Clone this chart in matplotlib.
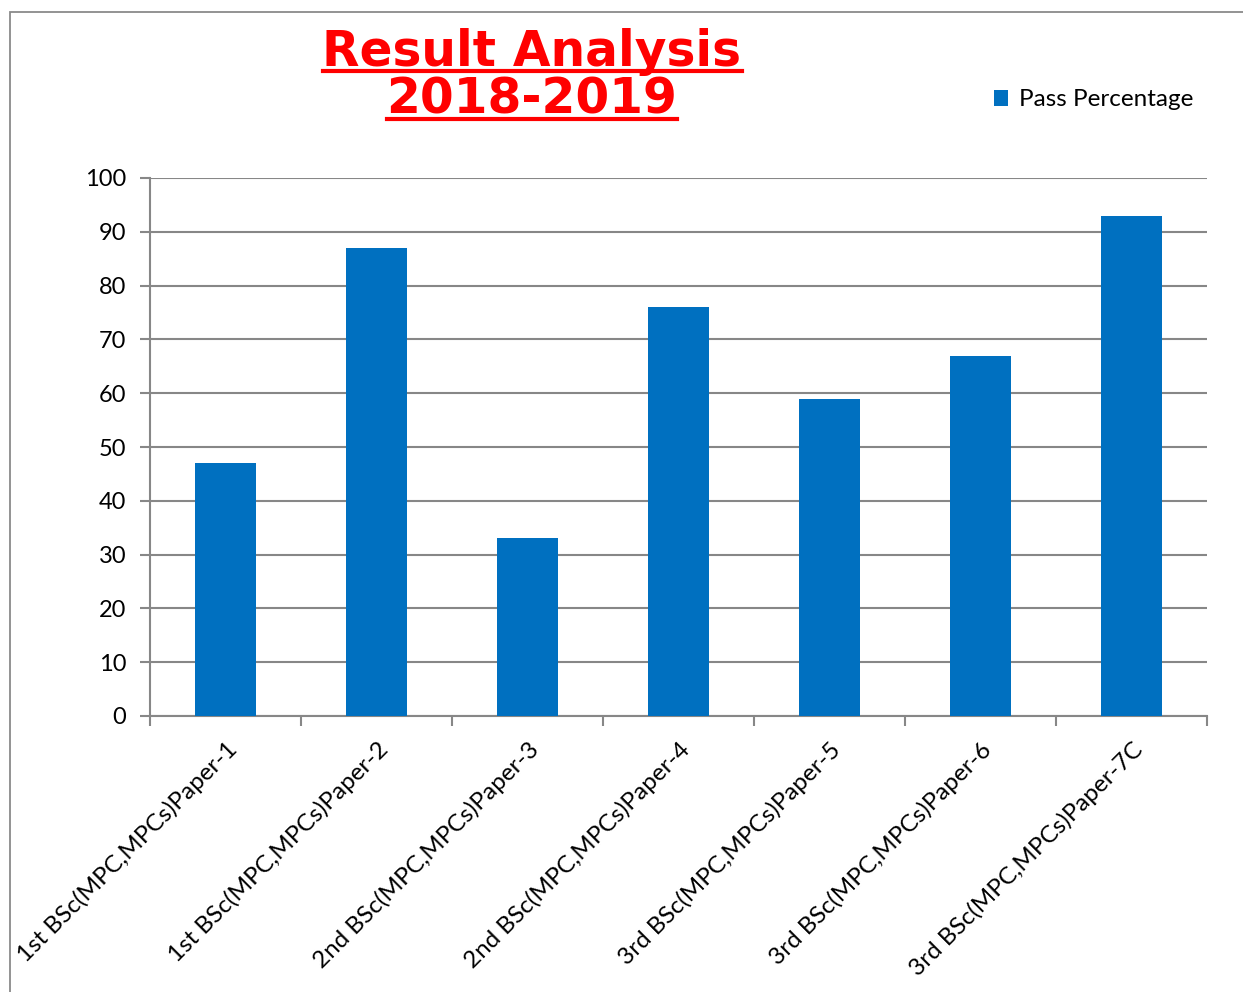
import matplotlib.pyplot as plt
from matplotlib.lines import Line2D
from matplotlib.patches import Rectangle

categories = ['1st BSc(MPC,MPCs)Paper-1', '1st BSc(MPC,MPCs)Paper-2',
              '2nd BSc(MPC,MPCs)Paper-3', '2nd BSc(MPC,MPCs)Paper-4',
              '3rd BSc(MPC,MPCs)Paper-5', '3rd BSc(MPC,MPCs)Paper-6',
              '3rd BSc(MPC,MPCs)Paper-7C']
pass_pct = [47, 87, 33, 76, 59, 67, 93]
y_ticks = [0, 10, 20, 30, 40, 50, 60, 70, 80, 90, 100]

BLUE = '#0070C0'
GRID = '#878787'

fig = plt.figure(figsize=(12.43, 9.92), dpi=100)
W, H = 1243, 992

# outer chart border (partially cropped in the reference)
fig.patches.append(Rectangle((10 / W, -0.1), 1.2, 1 - 12 / H + 0.1,
                             transform=fig.transFigure, fill=False,
                             edgecolor='#8a8a8a', lw=1.3))

ax = fig.add_axes([150 / W, 1 - 716 / H, (1207 - 150) / W, (716 - 178) / H])
x = list(range(len(categories)))
ax.bar(x, pass_pct, width=0.40, color=BLUE, zorder=3, label='Pass Percentage')

ax.set_xlim(-0.5, len(categories) - 0.5)
ax.set_ylim(0, 100)
ax.set_yticks(y_ticks)
ax.yaxis.grid(True, color=GRID, lw=1.5, zorder=0)
ax.set_axisbelow(True)

for s in ['top', 'right']:
    ax.spines[s].set_visible(False)
for s in ['left', 'bottom']:
    ax.spines[s].set_color(GRID)
    ax.spines[s].set_linewidth(1.5)

ax.tick_params(axis='y', length=7, width=1.5, color=GRID, labelsize=17, pad=10)
ax.set_xticks([i - 0.5 for i in range(len(categories) + 1)])
ax.set_xticklabels([])
ax.tick_params(axis='x', length=7, width=1.5, color=GRID)
ax.set_xticks(x, minor=True)
ax.set_xticklabels(categories, minor=True, rotation=45, ha='right', va='top',
                   rotation_mode='anchor', fontsize=17.5)
ax.tick_params(axis='x', which='minor', length=0, pad=16)
for lab in ax.get_yticklabels():
    lab.set_fontfamily('Lato')
for lab in ax.get_xticklabels(minor=True):
    lab.set_fontfamily('Lato')

leg = ax.legend(loc='center left', bbox_to_anchor=(972 / W, 1 - 100 / H),
                bbox_transform=fig.transFigure, frameon=False,
                prop={'family': 'Lato', 'size': 17.5}, handlelength=0.6,
                handleheight=0.6, handletextpad=0.45)

# title with underline
t1 = fig.text(532 / W, 1 - 52 / H, 'Result Analysis', ha='center', va='center',
              color='red', fontsize=35, fontweight='bold', family='DejaVu Sans')
t2 = fig.text(532 / W, 1 - 99 / H, '2018-2019', ha='center', va='center',
              color='red', fontsize=35, fontweight='bold', family='DejaVu Sans')
fig.canvas.draw()
r = fig.canvas.get_renderer()
for t, uy in [(t1, 71), (t2, 119)]:
    bb = t.get_window_extent(r)
    fig.add_artist(Line2D([bb.x0 / W, bb.x1 / W], [1 - uy / H, 1 - uy / H],
                          transform=fig.transFigure, color='red', lw=3))

fig.savefig('out.png', dpi=100)
